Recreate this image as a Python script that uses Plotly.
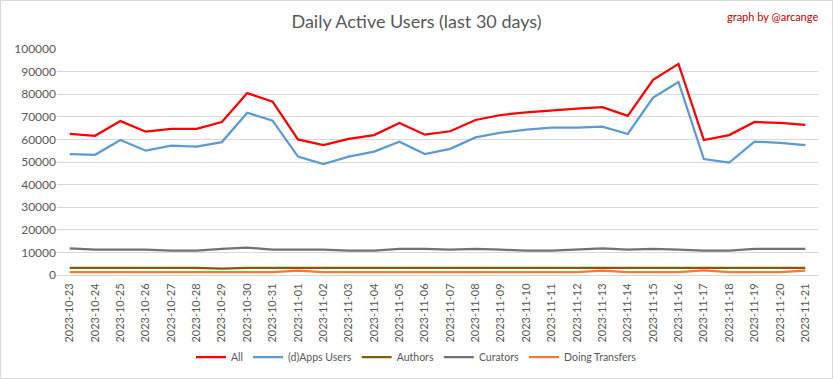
import plotly.graph_objects as go

dates = ["2023-10-23","2023-10-24","2023-10-25","2023-10-26","2023-10-27","2023-10-28","2023-10-29",
         "2023-10-30","2023-10-31","2023-11-01","2023-11-02","2023-11-03","2023-11-04","2023-11-05",
         "2023-11-06","2023-11-07","2023-11-08","2023-11-09","2023-11-10","2023-11-11","2023-11-12",
         "2023-11-13","2023-11-14","2023-11-15","2023-11-16","2023-11-17","2023-11-18","2023-11-19",
         "2023-11-20","2023-11-21"]

all_users = [62400, 61600, 68100, 63400, 64700, 64700, 67700, 80500, 76700, 60000, 57500, 60200, 61900, 67300,
             62100, 63600, 68600, 70800, 72000, 72900, 73600, 74300, 70400, 86400, 93400, 59700, 61900, 67700,
             67300, 66400]
apps_users = [53500, 53200, 59700, 55000, 57200, 56800, 58800, 71800, 68300, 52400, 49100, 52400, 54600, 59000,
              53500, 55800, 60900, 63000, 64300, 65200, 65200, 65600, 62400, 78500, 85400, 51300, 49700, 59000,
              58500, 57500]
authors = [3200, 3200, 3200, 3200, 3200, 3200, 2800, 3200, 3200, 3200, 3200, 3200, 3200, 3200,
           3200, 3200, 3200, 3200, 3200, 3200, 3200, 3300, 3200, 3200, 3200, 3300, 3200, 3200,
           3200, 3200]
curators = [11800, 11200, 11200, 11200, 10800, 10800, 11600, 12100, 11200, 11200, 11200, 10800, 10800, 11600,
            11600, 11200, 11600, 11200, 10800, 10800, 11300, 11800, 11200, 11600, 11200, 10800, 10800, 11600,
            11600, 11600]
transfers = [1300, 1300, 1300, 1300, 1300, 1300, 1300, 1300, 1300, 1900, 1300, 1300, 1300, 1300,
             1300, 1300, 1300, 1300, 1300, 1300, 1300, 1900, 1300, 1300, 1300, 2000, 1300, 1300,
             1300, 1900]

series = [
    ("All", all_users, "#FF0000"),
    ("(d)Apps Users", apps_users, "#5B9BD5"),
    ("Authors", authors, "#7F6000"),
    ("Curators", curators, "#767171"),
    ("Doing Transfers", transfers, "#ED7D31"),
]

FONT = "Lato"
TXT = "#595959"

fig = go.Figure()
for name, vals, color in series:
    fig.add_trace(go.Scatter(x=dates, y=vals, name=name, mode="lines",
                             line=dict(color=color, width=2.25)))

W, H = 833, 379
L, R, T, B = 57, 15, 49, 104
pw, ph = W - L - R, H - T - B

fig.update_layout(
    width=W, height=H,
    margin=dict(l=L, r=R, t=T, b=B, autoexpand=False),
    paper_bgcolor="white", plot_bgcolor="white",
    font=dict(family=FONT, color=TXT, size=11),
    title=dict(text="Daily Active Users (last 30 days)", x=0.5, xanchor="center",
               y=1 - 22 / H, yanchor="middle", yref="container",
               font=dict(family=FONT, size=18, color=TXT)),
    showlegend=True,
    legend=dict(orientation="h", x=0.5, xanchor="center", xref="container",
                y=1 - 357 / H, yanchor="middle", yref="container",
                font=dict(family=FONT, size=10.5, color=TXT), itemwidth=30, traceorder="normal",
                tracegroupgap=0),
    xaxis=dict(type="category", range=[-0.5, len(dates) - 0.5], tickangle=-90, showgrid=False,
               showline=False, zeroline=False, ticks="outside", ticklen=3, tickcolor="rgba(0,0,0,0)",
               automargin=False, tickfont=dict(family=FONT, size=11, color=TXT)),
    yaxis=dict(range=[0, 100000], dtick=10000, showgrid=True, gridcolor="#D9D9D9", gridwidth=1,
               zeroline=True, zerolinecolor="#D9D9D9", zerolinewidth=1, showline=False,
               automargin=False, tickformat="d", ticks="", tickfont=dict(family=FONT, size=12, color=TXT)),
    annotations=[dict(text="graph by @arcange", xref="paper", yref="paper",
                      x=(820 - L) / pw, y=(T + ph - 16) / ph, xanchor="right", yanchor="middle",
                      showarrow=False, font=dict(family=FONT, size=11, color="#C00000"))],
    shapes=[dict(type="rect", xref="paper", yref="paper",
                 x0=(0.5 - L) / pw, x1=(W - 0.5 - L) / pw,
                 y0=(T + ph - (H - 0.5)) / ph, y1=(T + ph - 0.5) / ph,
                 line=dict(color="#D9D9D9", width=1), layer="below")],
)
fig.write_html("out.html", config={"displayModeBar": False},
               post_script="document.body.style.margin='0';document.body.style.overflow='hidden';")
